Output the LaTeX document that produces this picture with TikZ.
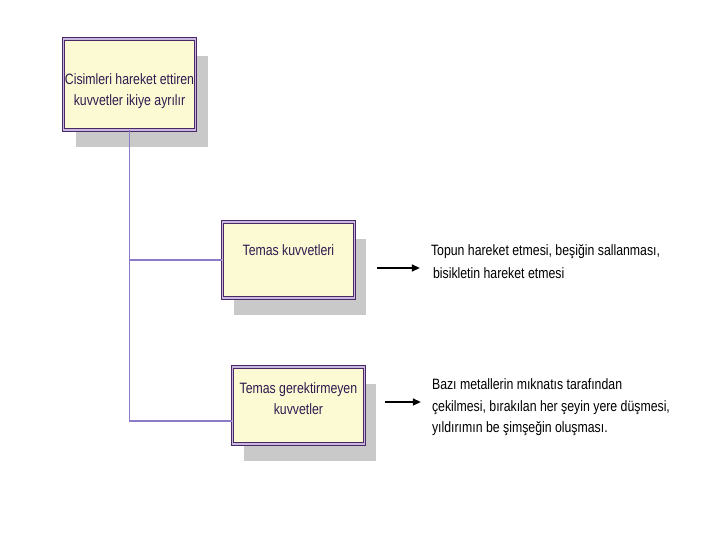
\documentclass[tikz,border=0pt]{standalone}
\usepackage{fontspec}
\setmainfont{Liberation Sans}[FakeStretch=0.82]
\usepackage{xcolor}
\usetikzlibrary{arrows.meta,positioning,shadows}
\definecolor{BoxFill}{HTML}{FCFAD2}
\definecolor{BoxEdge}{HTML}{4A2868}
\definecolor{BoxGap}{HTML}{C9B8DE}
\definecolor{BoxText}{HTML}{2E1A50}
\definecolor{LinkPurple}{HTML}{8B7AC6}
\definecolor{ShadowGray}{HTML}{C9C9C9}

\begin{document}
\begin{tikzpicture}[
  x=1pt, y=-1pt,
  kutu/.style={draw=BoxEdge, line width=0.9pt, double=BoxGap, double distance=1.6pt,
    fill=BoxFill, minimum width=132pt, align=center, text=BoxText, inner sep=0pt,
    font=\fontsize{15}{21}\selectfont,
    drop shadow={shadow xshift=12pt, shadow yshift=-17pt, fill=ShadowGray, opacity=1}},
  ornek/.style={align=left, inner sep=0pt},
  link/.style={draw=LinkPurple, line width=1.8pt},
  arrow/.style={-{Triangle[length=8pt, width=7pt]}, line width=1.4pt, shorten >=11pt}
]
  \useasboundingbox (0,0) rectangle (720,540);

  \node[kutu, minimum height=91pt, text height=54pt, text depth=11pt] (forces) at (129.5,84.5)
    {Cisimleri hareket ettiren\\kuvvetler ikiye ayrılır};
  \node[kutu, minimum height=76pt, text height=14pt, text depth=23pt,
    below right=91pt and 26pt of forces] (contact) {Temas kuvvetleri};
  \node[kutu, minimum height=77pt, text height=42pt, text depth=24pt,
    below=68pt of contact, xshift=10pt] (noncontact)
    {Temas gerektirmeyen\\kuvvetler};

  \node[ornek, font=\fontsize{15}{23}\selectfont, right=76pt of contact, yshift=-2pt] (ex1)
    {Topun hareket etmesi, beşiğin sallanması,\\\hspace{2pt}bisikletin hareket etmesi};
  \node[ornek, font=\fontsize{15}{21.5}\selectfont, right=67pt of noncontact, yshift=-2pt] (ex2)
    {Bazı metallerin mıknatıs tarafından\\çekilmesi, bırakılan her şeyin yere düşmesi,\\yıldırımın be şimşeğin oluşması.};

  \coordinate (arr1) at (377,268);
  \coordinate (arr2) at (385,402);

  \draw[link] (forces.south) |- (contact.west);
  \draw[link] (forces.south) |- ([yshift=-16pt]noncontact.west);
  \draw[arrow] (arr1) -- (arr1 -| ex1.west);
  \draw[arrow] (arr2) -- (arr2 -| ex2.west);
\end{tikzpicture}
\end{document}
